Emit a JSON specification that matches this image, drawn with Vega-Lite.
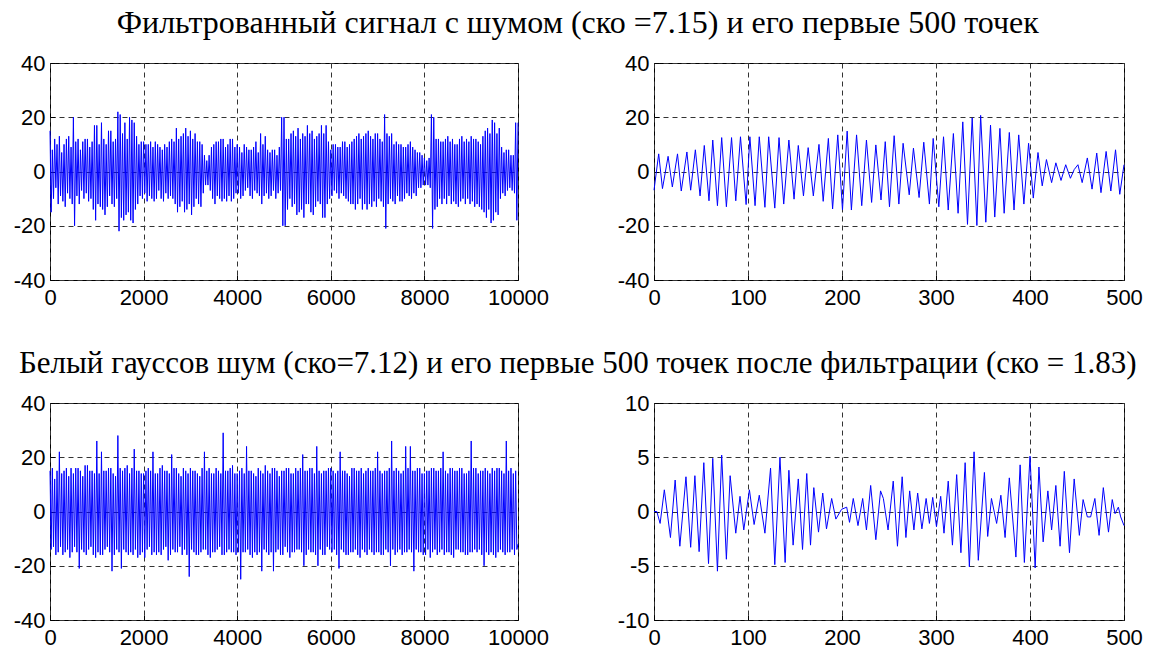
{
  "$schema": "https://vega.github.io/schema/vega-lite/v6.json",
  "background": "white",
  "padding": {"left": 12, "top": 6, "right": 0, "bottom": 0},
  "config": {
    "font": "Liberation Sans",
    "view": {"stroke": "black", "strokeWidth": 1},
    "axis": {
      "domain": false,
      "ticks": true,
      "tickSize": -5,
      "tickColor": "black",
      "grid": true,
      "gridDash": [5, 4],
      "gridColor": "#333333",
      "gridOpacity": 1,
      "gridWidth": 1,
      "labelFont": "Liberation Sans",
      "labelFontSize": 22,
      "labelColor": "black",
      "labelOverlap": false,
      "labelExpr": "toString(datum.value)"
    },
    "axisX": {"labelFlush": false, "labelPadding": 12},
    "axisY": {"labelPadding": 10},
    "title": {"font": "Liberation Serif", "fontSize": 31, "fontWeight": "normal", "color": "black", "anchor": "middle"}
  },
  "datasets": {
    "a": [
      {"n":0,"v":15},{"n":25,"v":-15},{"n":50,"v":8},{"n":75,"v":-10},{"n":100,"v":12},{"n":125,"v":-6},{"n":150,"v":10},{"n":175,"v":-12},{"n":200,"v":13},{"n":225,"v":-9},
      {"n":250,"v":7},{"n":275,"v":-11},{"n":300,"v":10},{"n":325,"v":-13},{"n":350,"v":12},{"n":375,"v":-8},{"n":400,"v":13},{"n":425,"v":-10},{"n":450,"v":9},{"n":475,"v":-12},
      {"n":500,"v":20},{"n":525,"v":-20},{"n":550,"v":11},{"n":575,"v":-9},{"n":600,"v":12},{"n":625,"v":-12},{"n":650,"v":8},{"n":675,"v":-7},{"n":700,"v":11},{"n":725,"v":-10},
      {"n":750,"v":12},{"n":775,"v":-8},{"n":800,"v":12},{"n":825,"v":-11},{"n":850,"v":9},{"n":875,"v":-10},{"n":900,"v":11},{"n":925,"v":-14},{"n":950,"v":17},{"n":975,"v":-18},
      {"n":1000,"v":17},{"n":1025,"v":-12},{"n":1050,"v":10},{"n":1075,"v":-13},{"n":1100,"v":18},{"n":1125,"v":-14},{"n":1150,"v":12},{"n":1175,"v":-16},{"n":1200,"v":10},{"n":1225,"v":-13},
      {"n":1250,"v":15},{"n":1275,"v":-9},{"n":1300,"v":15},{"n":1325,"v":-12},{"n":1350,"v":11},{"n":1375,"v":-13},{"n":1400,"v":12},{"n":1425,"v":-10},{"n":1450,"v":22},{"n":1475,"v":-22},
      {"n":1500,"v":21},{"n":1525,"v":-17},{"n":1550,"v":14},{"n":1575,"v":-18},{"n":1600,"v":18},{"n":1625,"v":-16},{"n":1650,"v":12},{"n":1675,"v":-15},{"n":1700,"v":20},{"n":1725,"v":-18},
      {"n":1750,"v":19},{"n":1775,"v":-19},{"n":1800,"v":18},{"n":1825,"v":-14},{"n":1850,"v":13},{"n":1875,"v":-12},{"n":1900,"v":10},{"n":1925,"v":-9},{"n":1950,"v":11},{"n":1975,"v":-10},
      {"n":2000,"v":11},{"n":2025,"v":-8},{"n":2050,"v":10},{"n":2075,"v":-11},{"n":2100,"v":10},{"n":2125,"v":-9},{"n":2150,"v":11},{"n":2175,"v":-10},{"n":2200,"v":9},{"n":2225,"v":-11},
      {"n":2250,"v":11},{"n":2275,"v":-10},{"n":2300,"v":10},{"n":2325,"v":-7},{"n":2350,"v":9},{"n":2375,"v":-10},{"n":2400,"v":8},{"n":2425,"v":-11},{"n":2450,"v":10},{"n":2475,"v":-8},
      {"n":2500,"v":9},{"n":2525,"v":-10},{"n":2550,"v":11},{"n":2575,"v":-9},{"n":2600,"v":12},{"n":2625,"v":-10},{"n":2650,"v":11},{"n":2675,"v":-12},{"n":2700,"v":16},{"n":2725,"v":-15},
      {"n":2750,"v":12},{"n":2775,"v":-13},{"n":2800,"v":13},{"n":2825,"v":-11},{"n":2850,"v":14},{"n":2875,"v":-15},{"n":2900,"v":16},{"n":2925,"v":-14},{"n":2950,"v":13},{"n":2975,"v":-12},
      {"n":3000,"v":15},{"n":3025,"v":-16},{"n":3050,"v":12},{"n":3075,"v":-13},{"n":3100,"v":14},{"n":3125,"v":-10},{"n":3150,"v":11},{"n":3175,"v":-12},{"n":3200,"v":11},{"n":3225,"v":-13},
      {"n":3250,"v":10},{"n":3275,"v":-8},{"n":3300,"v":6},{"n":3325,"v":-5},{"n":3350,"v":4},{"n":3375,"v":-5},{"n":3400,"v":6},{"n":3425,"v":-7},{"n":3450,"v":9},{"n":3475,"v":-10},
      {"n":3500,"v":10},{"n":3525,"v":-12},{"n":3550,"v":11},{"n":3575,"v":-9},{"n":3600,"v":11},{"n":3625,"v":-10},{"n":3650,"v":12},{"n":3675,"v":-11},{"n":3700,"v":12},{"n":3725,"v":-10},
      {"n":3750,"v":9},{"n":3775,"v":-11},{"n":3800,"v":10},{"n":3825,"v":-9},{"n":3850,"v":12},{"n":3875,"v":-11},{"n":3900,"v":12},{"n":3925,"v":-10},{"n":3950,"v":9},{"n":3975,"v":-8},
      {"n":4000,"v":10},{"n":4025,"v":-8},{"n":4050,"v":9},{"n":4075,"v":-10},{"n":4100,"v":7},{"n":4125,"v":-9},{"n":4150,"v":10},{"n":4175,"v":-7},{"n":4200,"v":9},{"n":4225,"v":-6},
      {"n":4250,"v":8},{"n":4275,"v":-9},{"n":4300,"v":8},{"n":4325,"v":-10},{"n":4350,"v":9},{"n":4375,"v":-7},{"n":4400,"v":11},{"n":4425,"v":-8},{"n":4450,"v":7},{"n":4475,"v":-9},
      {"n":4500,"v":14},{"n":4525,"v":-12},{"n":4550,"v":10},{"n":4575,"v":-9},{"n":4600,"v":13},{"n":4625,"v":-8},{"n":4650,"v":8},{"n":4675,"v":-10},{"n":4700,"v":7},{"n":4725,"v":-9},
      {"n":4750,"v":8},{"n":4775,"v":-7},{"n":4800,"v":8},{"n":4825,"v":-10},{"n":4850,"v":6},{"n":4875,"v":-8},{"n":4900,"v":9},{"n":4925,"v":-7},{"n":4950,"v":20},{"n":4975,"v":-20},
      {"n":5000,"v":20},{"n":5025,"v":-20},{"n":5050,"v":12},{"n":5075,"v":-14},{"n":5100,"v":12},{"n":5125,"v":-10},{"n":5150,"v":14},{"n":5175,"v":-13},{"n":5200,"v":15},{"n":5225,"v":-12},
      {"n":5250,"v":13},{"n":5275,"v":-16},{"n":5300,"v":16},{"n":5325,"v":-15},{"n":5350,"v":12},{"n":5375,"v":-14},{"n":5400,"v":14},{"n":5425,"v":-17},{"n":5450,"v":13},{"n":5475,"v":-12},
      {"n":5500,"v":17},{"n":5525,"v":-12},{"n":5550,"v":14},{"n":5575,"v":-15},{"n":5600,"v":15},{"n":5625,"v":-16},{"n":5650,"v":12},{"n":5675,"v":-13},{"n":5700,"v":13},{"n":5725,"v":-11},
      {"n":5750,"v":14},{"n":5775,"v":-12},{"n":5800,"v":17},{"n":5825,"v":-17},{"n":5850,"v":14},{"n":5875,"v":-17},{"n":5900,"v":17},{"n":5925,"v":-12},{"n":5950,"v":11},{"n":5975,"v":-10},
      {"n":6000,"v":8},{"n":6025,"v":-9},{"n":6050,"v":10},{"n":6075,"v":-7},{"n":6100,"v":10},{"n":6125,"v":-8},{"n":6150,"v":9},{"n":6175,"v":-10},{"n":6200,"v":9},{"n":6225,"v":-8},
      {"n":6250,"v":11},{"n":6275,"v":-9},{"n":6300,"v":11},{"n":6325,"v":-10},{"n":6350,"v":9},{"n":6375,"v":-11},{"n":6400,"v":10},{"n":6425,"v":-12},{"n":6450,"v":11},{"n":6475,"v":-12},
      {"n":6500,"v":12},{"n":6525,"v":-14},{"n":6550,"v":13},{"n":6575,"v":-12},{"n":6600,"v":14},{"n":6625,"v":-10},{"n":6650,"v":12},{"n":6675,"v":-14},{"n":6700,"v":13},{"n":6725,"v":-12},
      {"n":6750,"v":14},{"n":6775,"v":-14},{"n":6800,"v":15},{"n":6825,"v":-12},{"n":6850,"v":13},{"n":6875,"v":-13},{"n":6900,"v":12},{"n":6925,"v":-11},{"n":6950,"v":14},{"n":6975,"v":-13},
      {"n":7000,"v":14},{"n":7025,"v":-10},{"n":7050,"v":12},{"n":7075,"v":-11},{"n":7100,"v":11},{"n":7125,"v":-13},{"n":7150,"v":21},{"n":7175,"v":-21},{"n":7200,"v":14},{"n":7225,"v":-12},
      {"n":7250,"v":13},{"n":7275,"v":-10},{"n":7300,"v":14},{"n":7325,"v":-11},{"n":7350,"v":10},{"n":7375,"v":-12},{"n":7400,"v":11},{"n":7425,"v":-9},{"n":7450,"v":10},{"n":7475,"v":-11},
      {"n":7500,"v":10},{"n":7525,"v":-11},{"n":7550,"v":9},{"n":7575,"v":-10},{"n":7600,"v":9},{"n":7625,"v":-8},{"n":7650,"v":10},{"n":7675,"v":-9},{"n":7700,"v":11},{"n":7725,"v":-10},
      {"n":7750,"v":9},{"n":7775,"v":-8},{"n":7800,"v":8},{"n":7825,"v":-9},{"n":7850,"v":7},{"n":7875,"v":-6},{"n":7900,"v":7},{"n":7925,"v":-6},{"n":7950,"v":6},{"n":7975,"v":-5},
      {"n":8000,"v":5},{"n":8025,"v":-5},{"n":8050,"v":4},{"n":8075,"v":-5},{"n":8100,"v":5},{"n":8125,"v":-6},{"n":8150,"v":21},{"n":8175,"v":-21},{"n":8200,"v":20},{"n":8225,"v":-14},
      {"n":8250,"v":12},{"n":8275,"v":-13},{"n":8300,"v":12},{"n":8325,"v":-10},{"n":8350,"v":11},{"n":8375,"v":-12},{"n":8400,"v":11},{"n":8425,"v":-10},{"n":8450,"v":12},{"n":8475,"v":-12},
      {"n":8500,"v":13},{"n":8525,"v":-9},{"n":8550,"v":11},{"n":8575,"v":-12},{"n":8600,"v":12},{"n":8625,"v":-11},{"n":8650,"v":10},{"n":8675,"v":-12},{"n":8700,"v":10},{"n":8725,"v":-13},
      {"n":8750,"v":12},{"n":8775,"v":-11},{"n":8800,"v":13},{"n":8825,"v":-10},{"n":8850,"v":11},{"n":8875,"v":-12},{"n":8900,"v":12},{"n":8925,"v":-10},{"n":8950,"v":11},{"n":8975,"v":-12},
      {"n":9000,"v":13},{"n":9025,"v":-11},{"n":9050,"v":12},{"n":9075,"v":-13},{"n":9100,"v":12},{"n":9125,"v":-12},{"n":9150,"v":11},{"n":9175,"v":-13},{"n":9200,"v":10},{"n":9225,"v":-14},
      {"n":9250,"v":13},{"n":9275,"v":-15},{"n":9300,"v":15},{"n":9325,"v":-17},{"n":9350,"v":16},{"n":9375,"v":-14},{"n":9400,"v":14},{"n":9425,"v":-19},{"n":9450,"v":19},{"n":9475,"v":-18},
      {"n":9500,"v":18},{"n":9525,"v":-15},{"n":9550,"v":14},{"n":9575,"v":-16},{"n":9600,"v":16},{"n":9625,"v":-10},{"n":9650,"v":9},{"n":9675,"v":-8},{"n":9700,"v":7},{"n":9725,"v":-9},
      {"n":9750,"v":8},{"n":9775,"v":-7},{"n":9800,"v":8},{"n":9825,"v":-6},{"n":9850,"v":6},{"n":9875,"v":-7},{"n":9900,"v":6},{"n":9925,"v":-8},{"n":9950,"v":18},{"n":9975,"v":-18},{"n":10000,"v":18}
    ],
    "b": [
      {"n":0,"v":-6.9},{"n":5,"v":6.5},{"n":9,"v":-6.3},{"n":15,"v":5.6},{"n":19.5,"v":-5.7},{"n":25,"v":6.5},{"n":29,"v":-7.2},{"n":35,"v":7.2},{"n":39,"v":-6.9},{"n":44,"v":8},
      {"n":49,"v":-9},{"n":53.5,"v":9.6},{"n":58.5,"v":-10.8},{"n":62.5,"v":11.6},{"n":67.5,"v":-12.6},{"n":72,"v":12.5},{"n":77,"v":-13},{"n":82.5,"v":12.5},{"n":87,"v":-10.8},{"n":92,"v":12.8},
      {"n":98,"v":-12.2},{"n":102,"v":12.8},{"n":107.5,"v":-12.6},{"n":112,"v":12.8},{"n":118,"v":-13.2},{"n":122,"v":12.8},{"n":128.5,"v":-13.5},{"n":133,"v":12.5},{"n":138,"v":-12},{"n":143.5,"v":11.6},
      {"n":149,"v":-10.2},{"n":153.5,"v":9.6},{"n":159,"v":-9},{"n":164,"v":8.8},{"n":169.5,"v":-9},{"n":175.5,"v":10},{"n":180,"v":-11},{"n":185.5,"v":12.2},{"n":190,"v":-13.8},{"n":195.5,"v":13.5},
      {"n":200.5,"v":-14.2},{"n":205.5,"v":14.9},{"n":210,"v":-14.2},{"n":215.5,"v":13.5},{"n":221,"v":-12.6},{"n":226,"v":11.6},{"n":231.5,"v":-11.4},{"n":236,"v":9.8},{"n":241.5,"v":-10.5},{"n":246,"v":11},
      {"n":250.5,"v":-13},{"n":255.5,"v":13.2},{"n":260.5,"v":-12},{"n":265,"v":10.4},{"n":271.5,"v":-8.6},{"n":276,"v":8.6},{"n":282,"v":-9.6},{"n":287,"v":10.8},{"n":293,"v":-12},{"n":297,"v":12.2},
      {"n":303,"v":-13},{"n":308,"v":12.8},{"n":313,"v":-14.2},{"n":318.5,"v":14},{"n":323.5,"v":-15.4},{"n":328.5,"v":18.3},{"n":333.5,"v":-19.5},{"n":338.5,"v":19.8},{"n":343.5,"v":-19.9},{"n":347.5,"v":20.7},
      {"n":353,"v":-18.7},{"n":358,"v":17.1},{"n":362.5,"v":-16.8},{"n":368,"v":15.9},{"n":372.5,"v":-15.4},{"n":378,"v":14.4},{"n":383,"v":-14.2},{"n":388,"v":13.5},{"n":393.5,"v":-12},{"n":398.5,"v":10.4},
      {"n":403.5,"v":-9.8},{"n":408.5,"v":7},{"n":413,"v":-5.3},{"n":417.5,"v":4.4},{"n":423,"v":-4.1},{"n":427.5,"v":3.2},{"n":433,"v":-3.3},{"n":438,"v":2.5},{"n":443,"v":-2.5},{"n":447,"v":0.7},
      {"n":451,"v":2.5},{"n":455.5,"v":-4.1},{"n":461,"v":5},{"n":466,"v":-6.5},{"n":471,"v":6.8},{"n":475.5,"v":-7.8},{"n":481,"v":7.4},{"n":486,"v":-7.2},{"n":491,"v":8},{"n":495.5,"v":-8.4},{"n":500,"v":2.5}
    ],
    "c": [
      {"n":0,"v":15},{"n":25,"v":-14},{"n":50,"v":16},{"n":75,"v":-13},{"n":100,"v":12},{"n":125,"v":-16},{"n":150,"v":15},{"n":175,"v":-15},{"n":200,"v":22},{"n":225,"v":-13},
      {"n":250,"v":14},{"n":275,"v":-16},{"n":300,"v":15},{"n":325,"v":-15},{"n":350,"v":16},{"n":375,"v":-14},{"n":400,"v":13},{"n":425,"v":-17},{"n":450,"v":16},{"n":475,"v":-15},
      {"n":500,"v":14},{"n":525,"v":-13},{"n":550,"v":16},{"n":575,"v":-15},{"n":600,"v":16},{"n":625,"v":-21},{"n":650,"v":15},{"n":675,"v":-14},{"n":700,"v":13},{"n":725,"v":-15},
      {"n":750,"v":17},{"n":775,"v":-16},{"n":800,"v":17},{"n":825,"v":-14},{"n":850,"v":15},{"n":875,"v":-13},{"n":900,"v":15},{"n":925,"v":-16},{"n":950,"v":14},{"n":975,"v":-17},
      {"n":1000,"v":26},{"n":1025,"v":-15},{"n":1050,"v":14},{"n":1075,"v":-16},{"n":1100,"v":22},{"n":1125,"v":-16},{"n":1150,"v":15},{"n":1175,"v":-14},{"n":1200,"v":15},{"n":1225,"v":-13},
      {"n":1250,"v":16},{"n":1275,"v":-15},{"n":1300,"v":16},{"n":1325,"v":-22},{"n":1350,"v":14},{"n":1375,"v":-16},{"n":1400,"v":13},{"n":1425,"v":-14},{"n":1450,"v":28},{"n":1475,"v":-15},
      {"n":1500,"v":16},{"n":1525,"v":-21},{"n":1550,"v":15},{"n":1575,"v":-14},{"n":1600,"v":16},{"n":1625,"v":-15},{"n":1650,"v":17},{"n":1675,"v":-16},{"n":1700,"v":14},{"n":1725,"v":-15},
      {"n":1750,"v":16},{"n":1775,"v":-16},{"n":1800,"v":23},{"n":1825,"v":-14},{"n":1850,"v":15},{"n":1875,"v":-17},{"n":1900,"v":15},{"n":1925,"v":-16},{"n":1950,"v":14},{"n":1975,"v":-15},
      {"n":2000,"v":14},{"n":2025,"v":-17},{"n":2050,"v":15},{"n":2075,"v":-14},{"n":2100,"v":16},{"n":2125,"v":-13},{"n":2150,"v":15},{"n":2175,"v":-16},{"n":2200,"v":22},{"n":2225,"v":-15},
      {"n":2250,"v":14},{"n":2275,"v":-16},{"n":2300,"v":14},{"n":2325,"v":-15},{"n":2350,"v":16},{"n":2375,"v":-16},{"n":2400,"v":17},{"n":2425,"v":-14},{"n":2450,"v":15},{"n":2475,"v":-13},
      {"n":2500,"v":15},{"n":2525,"v":-18},{"n":2550,"v":14},{"n":2575,"v":-16},{"n":2600,"v":21},{"n":2625,"v":-14},{"n":2650,"v":16},{"n":2675,"v":-15},{"n":2700,"v":16},{"n":2725,"v":-15},
      {"n":2750,"v":14},{"n":2775,"v":-13},{"n":2800,"v":13},{"n":2825,"v":-16},{"n":2850,"v":16},{"n":2875,"v":-14},{"n":2900,"v":15},{"n":2925,"v":-16},{"n":2950,"v":14},{"n":2975,"v":-24},
      {"n":3000,"v":16},{"n":3025,"v":-14},{"n":3050,"v":15},{"n":3075,"v":-15},{"n":3100,"v":15},{"n":3125,"v":-16},{"n":3150,"v":14},{"n":3175,"v":-16},{"n":3200,"v":13},{"n":3225,"v":-15},
      {"n":3250,"v":16},{"n":3275,"v":-14},{"n":3300,"v":22},{"n":3325,"v":-14},{"n":3350,"v":15},{"n":3375,"v":-16},{"n":3400,"v":16},{"n":3425,"v":-17},{"n":3450,"v":14},{"n":3475,"v":-15},
      {"n":3500,"v":14},{"n":3525,"v":-15},{"n":3550,"v":16},{"n":3575,"v":-14},{"n":3600,"v":15},{"n":3625,"v":-13},{"n":3650,"v":14},{"n":3675,"v":-16},{"n":3700,"v":29},{"n":3725,"v":-16},
      {"n":3750,"v":15},{"n":3775,"v":-15},{"n":3800,"v":15},{"n":3825,"v":-14},{"n":3850,"v":16},{"n":3875,"v":-15},{"n":3900,"v":17},{"n":3925,"v":-15},{"n":3950,"v":14},{"n":3975,"v":-16},
      {"n":4000,"v":14},{"n":4025,"v":-15},{"n":4050,"v":15},{"n":4075,"v":-25},{"n":4100,"v":16},{"n":4125,"v":-15},{"n":4150,"v":14},{"n":4175,"v":-15},{"n":4200,"v":24},{"n":4225,"v":-14},
      {"n":4250,"v":15},{"n":4275,"v":-16},{"n":4300,"v":15},{"n":4325,"v":-17},{"n":4350,"v":14},{"n":4375,"v":-15},{"n":4400,"v":13},{"n":4425,"v":-16},{"n":4450,"v":16},{"n":4475,"v":-15},
      {"n":4500,"v":15},{"n":4525,"v":-22},{"n":4550,"v":14},{"n":4575,"v":-14},{"n":4600,"v":17},{"n":4625,"v":-15},{"n":4650,"v":15},{"n":4675,"v":-16},{"n":4700,"v":14},{"n":4725,"v":-15},
      {"n":4750,"v":16},{"n":4775,"v":-22},{"n":4800,"v":16},{"n":4825,"v":-15},{"n":4850,"v":15},{"n":4875,"v":-14},{"n":4900,"v":13},{"n":4925,"v":-16},{"n":4950,"v":15},{"n":4975,"v":-16},
      {"n":5000,"v":15},{"n":5025,"v":-13},{"n":5050,"v":16},{"n":5075,"v":-15},{"n":5100,"v":16},{"n":5125,"v":-17},{"n":5150,"v":14},{"n":5175,"v":-15},{"n":5200,"v":14},{"n":5225,"v":-15},
      {"n":5250,"v":16},{"n":5275,"v":-14},{"n":5300,"v":15},{"n":5325,"v":-14},{"n":5350,"v":16},{"n":5375,"v":-15},{"n":5400,"v":21},{"n":5425,"v":-20},{"n":5450,"v":15},{"n":5475,"v":-16},
      {"n":5500,"v":15},{"n":5525,"v":-14},{"n":5550,"v":16},{"n":5575,"v":-15},{"n":5600,"v":16},{"n":5625,"v":-15},{"n":5650,"v":14},{"n":5675,"v":-16},{"n":5700,"v":24},{"n":5725,"v":-20},
      {"n":5750,"v":15},{"n":5775,"v":-14},{"n":5800,"v":14},{"n":5825,"v":-16},{"n":5850,"v":15},{"n":5875,"v":-16},{"n":5900,"v":15},{"n":5925,"v":-13},{"n":5950,"v":16},{"n":5975,"v":-14},
      {"n":6000,"v":16},{"n":6025,"v":-15},{"n":6050,"v":15},{"n":6075,"v":-14},{"n":6100,"v":14},{"n":6125,"v":-16},{"n":6150,"v":15},{"n":6175,"v":-21},{"n":6200,"v":22},{"n":6225,"v":-14},
      {"n":6250,"v":15},{"n":6275,"v":-15},{"n":6300,"v":15},{"n":6325,"v":-16},{"n":6350,"v":14},{"n":6375,"v":-16},{"n":6400,"v":13},{"n":6425,"v":-15},{"n":6450,"v":16},{"n":6475,"v":-15},
      {"n":6500,"v":16},{"n":6525,"v":-14},{"n":6550,"v":15},{"n":6575,"v":-16},{"n":6600,"v":15},{"n":6625,"v":-17},{"n":6650,"v":16},{"n":6675,"v":-14},{"n":6700,"v":14},{"n":6725,"v":-15},
      {"n":6750,"v":15},{"n":6775,"v":-16},{"n":6800,"v":16},{"n":6825,"v":-14},{"n":6850,"v":15},{"n":6875,"v":-15},{"n":6900,"v":15},{"n":6925,"v":-16},{"n":6950,"v":16},{"n":6975,"v":-15},
      {"n":7000,"v":22},{"n":7025,"v":-15},{"n":7050,"v":15},{"n":7075,"v":-16},{"n":7100,"v":14},{"n":7125,"v":-16},{"n":7150,"v":15},{"n":7175,"v":-14},{"n":7200,"v":15},{"n":7225,"v":-15},
      {"n":7250,"v":16},{"n":7275,"v":-20},{"n":7300,"v":26},{"n":7325,"v":-14},{"n":7350,"v":15},{"n":7375,"v":-16},{"n":7400,"v":16},{"n":7425,"v":-15},{"n":7450,"v":15},{"n":7475,"v":-14},
      {"n":7500,"v":14},{"n":7525,"v":-16},{"n":7550,"v":15},{"n":7575,"v":-15},{"n":7600,"v":24},{"n":7625,"v":-15},{"n":7650,"v":16},{"n":7675,"v":-14},{"n":7700,"v":24},{"n":7725,"v":-15},
      {"n":7750,"v":15},{"n":7775,"v":-22},{"n":7800,"v":15},{"n":7825,"v":-14},{"n":7850,"v":16},{"n":7875,"v":-15},{"n":7900,"v":16},{"n":7925,"v":-15},{"n":7950,"v":14},{"n":7975,"v":-16},
      {"n":8000,"v":14},{"n":8025,"v":-16},{"n":8050,"v":15},{"n":8075,"v":-14},{"n":8100,"v":15},{"n":8125,"v":-17},{"n":8150,"v":16},{"n":8175,"v":-15},{"n":8200,"v":16},{"n":8225,"v":-14},
      {"n":8250,"v":15},{"n":8275,"v":-16},{"n":8300,"v":15},{"n":8325,"v":-15},{"n":8350,"v":16},{"n":8375,"v":-14},{"n":8400,"v":22},{"n":8425,"v":-16},{"n":8450,"v":15},{"n":8475,"v":-15},
      {"n":8500,"v":14},{"n":8525,"v":-15},{"n":8550,"v":16},{"n":8575,"v":-16},{"n":8600,"v":16},{"n":8625,"v":-17},{"n":8650,"v":15},{"n":8675,"v":-14},{"n":8700,"v":15},{"n":8725,"v":-14},
      {"n":8750,"v":16},{"n":8775,"v":-15},{"n":8800,"v":16},{"n":8825,"v":-15},{"n":8850,"v":14},{"n":8875,"v":-16},{"n":8900,"v":14},{"n":8925,"v":-16},{"n":8950,"v":15},{"n":8975,"v":-15},
      {"n":9000,"v":26},{"n":9025,"v":-15},{"n":9050,"v":16},{"n":9075,"v":-14},{"n":9100,"v":16},{"n":9125,"v":-15},{"n":9150,"v":14},{"n":9175,"v":-14},{"n":9200,"v":15},{"n":9225,"v":-16},
      {"n":9250,"v":15},{"n":9275,"v":-20},{"n":9300,"v":16},{"n":9325,"v":-15},{"n":9350,"v":15},{"n":9375,"v":-16},{"n":9400,"v":14},{"n":9425,"v":-15},{"n":9450,"v":16},{"n":9475,"v":-16},
      {"n":9500,"v":15},{"n":9525,"v":-17},{"n":9550,"v":16},{"n":9575,"v":-15},{"n":9600,"v":16},{"n":9625,"v":-14},{"n":9650,"v":15},{"n":9675,"v":-15},{"n":9700,"v":14},{"n":9725,"v":-16},
      {"n":9750,"v":26},{"n":9775,"v":-15},{"n":9800,"v":15},{"n":9825,"v":-15},{"n":9850,"v":16},{"n":9875,"v":-14},{"n":9900,"v":14},{"n":9925,"v":-16},{"n":9950,"v":15},{"n":9975,"v":-14},{"n":10000,"v":-12}
    ],
    "d": [
      {"n":0,"v":0},{"n":3,"v":0},{"n":6.5,"v":-1.1},{"n":11,"v":2},{"n":17.5,"v":-2.4},{"n":22.5,"v":2.9},{"n":27.5,"v":-3.2},{"n":34,"v":3.2},{"n":39,"v":-3.3},{"n":43.5,"v":3.3},
      {"n":48,"v":-3.7},{"n":53,"v":4.5},{"n":58,"v":-4.8},{"n":62.5,"v":4.9},{"n":67.5,"v":-5.5},{"n":72,"v":5.2},{"n":77,"v":-4.4},{"n":81,"v":3.3},{"n":87,"v":-2},{"n":91.5,"v":1.4},
      {"n":95.5,"v":-1.7},{"n":101.5,"v":2},{"n":106.5,"v":-1.2},{"n":112,"v":1.5},{"n":118,"v":-2},{"n":124,"v":4},{"n":128.5,"v":-4.9},{"n":134,"v":5},{"n":139.5,"v":-4.7},{"n":143.5,"v":3.8},
      {"n":148,"v":-3.1},{"n":153.5,"v":3},{"n":158,"v":-3.5},{"n":162.5,"v":3.5},{"n":166.5,"v":-3.1},{"n":170,"v":2.2},{"n":175,"v":-1.9},{"n":179.5,"v":1.7},{"n":183.5,"v":-1.6},{"n":189,"v":1.2},
      {"n":193.5,"v":-0.7},{"n":199.5,"v":0.2},{"n":205,"v":0.4},{"n":208,"v":-1},{"n":212,"v":1.2},{"n":217,"v":-1.3},{"n":222,"v":1.2},{"n":226,"v":-1.7},{"n":230.5,"v":2.4},{"n":236,"v":-2.6},
      {"n":241,"v":1.9},{"n":244,"v":1.2},{"n":249,"v":-1.7},{"n":254.5,"v":2.8},{"n":259,"v":-3.2},{"n":264,"v":3.2},{"n":268,"v":-2.4},{"n":272,"v":1.9},{"n":276.5,"v":-1.7},{"n":280.5,"v":1.7},
      {"n":285,"v":-1.6},{"n":289.5,"v":1.2},{"n":293,"v":-1.1},{"n":296.5,"v":1.3},{"n":300.5,"v":-1.4},{"n":305,"v":1.4},{"n":308.5,"v":-2},{"n":313,"v":2.8},{"n":317.5,"v":-3.1},{"n":322,"v":3.4},
      {"n":326.5,"v":-3.8},{"n":331,"v":4.5},{"n":335.5,"v":-5.1},{"n":340.5,"v":5.5},{"n":345,"v":-4.5},{"n":351.5,"v":3.6},{"n":355,"v":-2.3},{"n":359,"v":1.2},{"n":364.5,"v":-1.1},{"n":369,"v":1.5},
      {"n":373.5,"v":-2.4},{"n":378,"v":3.1},{"n":385,"v":-4.2},{"n":389.5,"v":4.3},{"n":394,"v":-4.7},{"n":400,"v":5.1},{"n":405.5,"v":-5.2},{"n":409.5,"v":4.1},{"n":414,"v":-2.8},{"n":419,"v":1.9},
      {"n":423,"v":-1.7},{"n":427.5,"v":2.4},{"n":432,"v":-3.2},{"n":436.5,"v":3.7},{"n":442,"v":-3.8},{"n":447,"v":3},{"n":452.5,"v":-2.2},{"n":456.5,"v":1.1},{"n":461,"v":-0.5},{"n":464.5,"v":-0.5},
      {"n":469,"v":1.2},{"n":473.5,"v":-2.2},{"n":478,"v":2.2},{"n":483.5,"v":-1.9},{"n":487.5,"v":1.1},{"n":490.5,"v":-0.2},{"n":494,"v":0.4},{"n":496.5,"v":-0.5},{"n":500,"v":-1.3}
    ]
  },
  "spacing": 38,
  "vconcat": [
    {
      "title": {"text": "Фильтрованный сигнал с шумом (ско =7.15) и его первые 500 точек", "font": "Liberation Serif", "fontSize": 32, "fontWeight": "normal", "offset": 12},
      "spacing": 136,
      "bounds": "flush",
      "hconcat": [
        {
          "width": 468, "height": 217,
          "data": {"name": "a"},
          "layer": [
            {"mark": {"type": "rule", "color": "#333333", "strokeWidth": 1}, "encoding": {"y": {"datum": 0}}},
            {"mark": {"type": "line", "color": "#0000ff", "strokeWidth": 1}}
          ],
          "encoding": {
            "x": {"field": "n", "type": "quantitative", "title": null, "scale": {"domain": [0, 10000], "nice": false}, "axis": {"values": [0, 2000, 4000, 6000, 8000, 10000]}},
            "y": {"field": "v", "type": "quantitative", "title": null, "scale": {"domain": [-40, 40], "nice": false}, "axis": {"values": [-40, -20, 0, 20, 40]}}
          }
        },
        {
          "width": 470, "height": 217,
          "data": {"name": "b"},
          "layer": [
            {"mark": {"type": "rule", "color": "#333333", "strokeWidth": 1}, "encoding": {"y": {"datum": 0}}},
            {"mark": {"type": "line", "color": "#0000ff", "strokeWidth": 1}}
          ],
          "encoding": {
            "x": {"field": "n", "type": "quantitative", "title": null, "scale": {"domain": [0, 500], "nice": false}, "axis": {"values": [0, 100, 200, 300, 400, 500]}},
            "y": {"field": "v", "type": "quantitative", "title": null, "scale": {"domain": [-40, 40], "nice": false}, "axis": {"values": [-40, -20, 0, 20, 40]}}
          }
        }
      ]
    },
    {
      "title": {"text": "Белый гауссов шум (ско=7.12) и его первые 500 точек после фильтрации (ско = 1.83)", "font": "Liberation Serif", "fontSize": 31, "fontWeight": "normal", "offset": 12},
      "spacing": 136,
      "bounds": "flush",
      "hconcat": [
        {
          "width": 468, "height": 217,
          "data": {"name": "c"},
          "layer": [
            {"mark": {"type": "rule", "color": "#333333", "strokeWidth": 1}, "encoding": {"y": {"datum": 0}}},
            {"mark": {"type": "line", "color": "#0000ff", "strokeWidth": 1}}
          ],
          "encoding": {
            "x": {"field": "n", "type": "quantitative", "title": null, "scale": {"domain": [0, 10000], "nice": false}, "axis": {"values": [0, 2000, 4000, 6000, 8000, 10000]}},
            "y": {"field": "v", "type": "quantitative", "title": null, "scale": {"domain": [-40, 40], "nice": false}, "axis": {"values": [-40, -20, 0, 20, 40]}}
          }
        },
        {
          "width": 470, "height": 217,
          "data": {"name": "d"},
          "layer": [
            {"mark": {"type": "rule", "color": "#333333", "strokeWidth": 1}, "encoding": {"y": {"datum": 0}}},
            {"mark": {"type": "line", "color": "#0000ff", "strokeWidth": 1}}
          ],
          "encoding": {
            "x": {"field": "n", "type": "quantitative", "title": null, "scale": {"domain": [0, 500], "nice": false}, "axis": {"values": [0, 100, 200, 300, 400, 500]}},
            "y": {"field": "v", "type": "quantitative", "title": null, "scale": {"domain": [-10, 10], "nice": false}, "axis": {"values": [-10, -5, 0, 5, 10]}}
          }
        }
      ]
    }
  ]
}
